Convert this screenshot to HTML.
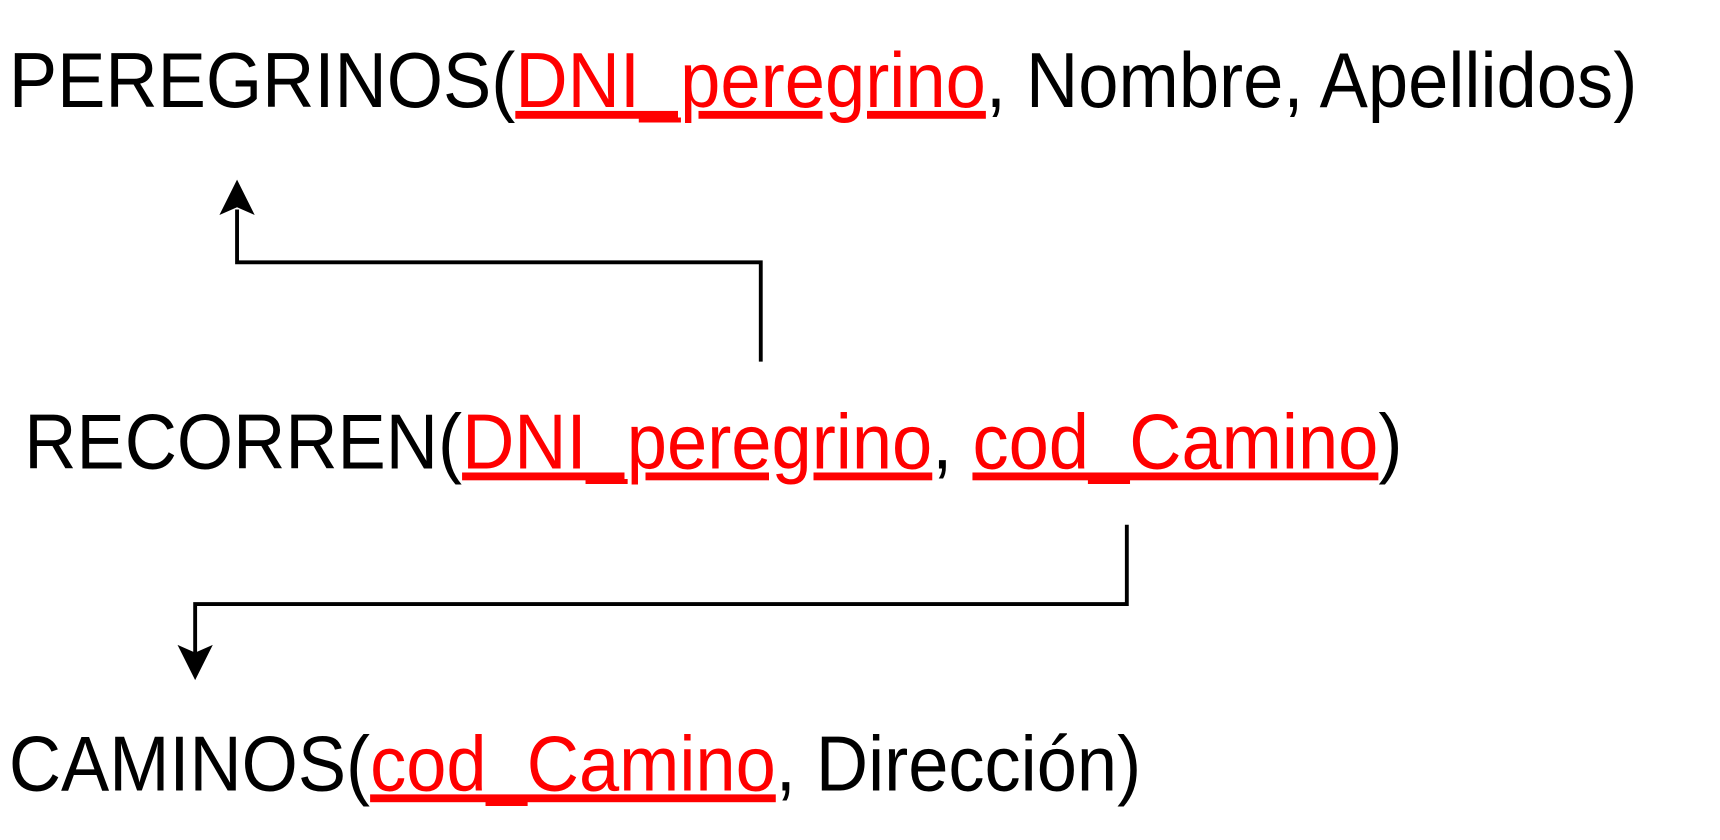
<!DOCTYPE html>
<html><head><meta charset="utf-8"><style>
html,body{margin:0;padding:0;background:#fff;}
svg{display:block}
text{font-family:"Liberation Sans",Arial,sans-serif;font-size:71px;fill:#000}
.r{fill:#ff0000;text-decoration:underline}
</style></head><body>
<svg width="1720" height="840" viewBox="0 0 1560 762" preserveAspectRatio="none" xmlns="http://www.w3.org/2000/svg">
<text x="8" y="97" textLength="1477" lengthAdjust="spacingAndGlyphs">PEREGRINOS(<tspan class="r">DNI_peregrino</tspan>, Nombre, Apellidos)</text>
<text x="22" y="425" textLength="1250" lengthAdjust="spacingAndGlyphs">RECORREN(<tspan class="r">DNI_peregrino</tspan>, <tspan class="r">cod_Camino</tspan>)</text>
<text x="8" y="717" textLength="1027" lengthAdjust="spacingAndGlyphs">CAMINOS(<tspan class="r">cod_Camino</tspan>, Dirección)</text>
<polyline points="690,328 690,238 215,238 215,190" fill="none" stroke="#000" stroke-width="3.5"/>
<polygon points="215,163 231,195 215,188 199,195" fill="#000"/>
<polyline points="1022,476 1022,548 177,548 177,592" fill="none" stroke="#000" stroke-width="3.5"/>
<polygon points="177,617 161,585 177,592 193,585" fill="#000"/>
</svg>
</body></html>
